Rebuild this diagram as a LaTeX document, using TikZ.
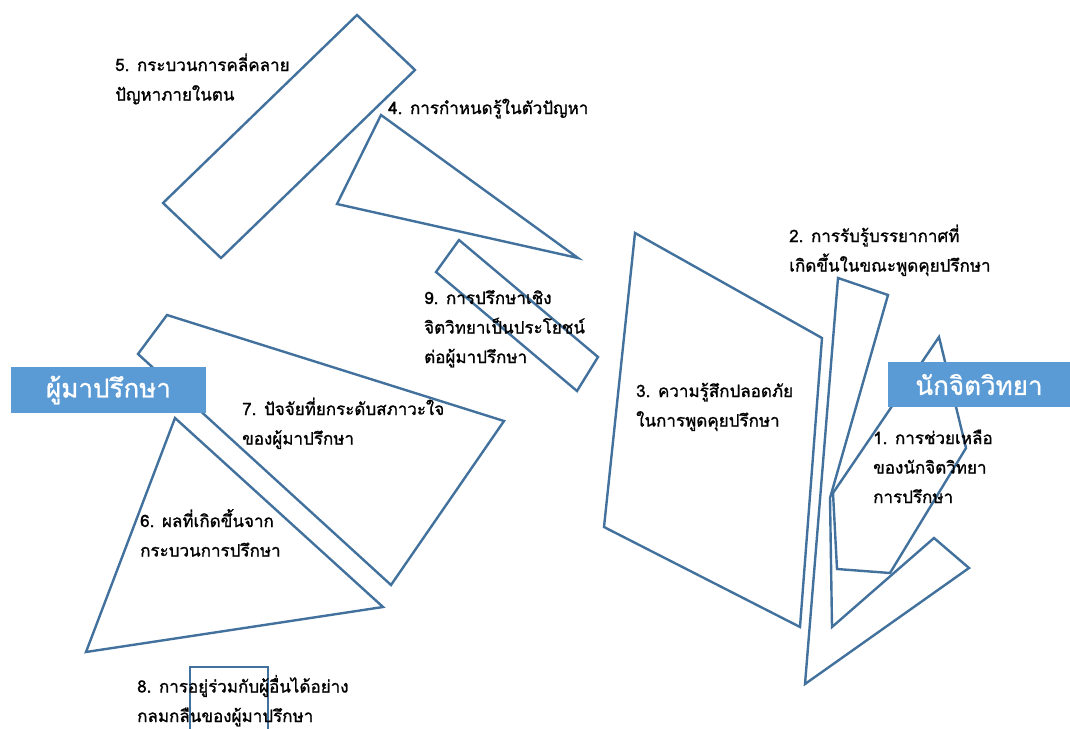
\documentclass[tikz,border=0pt]{standalone}
\usepackage{fontspec}
\newfontfamily\thaifont[Script=Thai, UprightFeatures={FakeBold=1.2}]{Loma}
\newfontfamily\rolefont[Script=Thai, UprightFeatures={FakeBold=1}]{Loma}
\definecolor{shapeline}{HTML}{41719C}
\definecolor{rolefill}{HTML}{5B9BD5}

\begin{document}
\begin{tikzpicture}[%
    x=1pt, y=-1pt,
    piece/.style={draw=shapeline, line width=2.4pt, line join=miter},
    lbl/.style={anchor=base west, align=left, inner sep=0pt, font=\thaifont\fontsize{17}{29.5}\selectfont},
    role/.style={fill=rolefill, text=white, inner sep=0pt, font=\rolefont\fontsize{26}{30}\selectfont},
  ]
  \useasboundingbox (0,0) rectangle (1070,728);

  % --- pieces (left) ---
  \draw[piece] (357,15) -- (415,70) -- (221,258) -- (163,203) -- cycle;   % 5
  \draw[piece] (381,115) -- (578,258) -- (337,204) -- cycle;              % 4
  \draw[piece] (459,240) -- (598,357) -- (577,391) -- (436,272) -- cycle; % 9
  \draw[piece] (167,315) -- (504,421) -- (391,585) -- (138,354) -- cycle; % 7
  \draw[piece] (175,418) -- (383,607) -- (86,652) -- cycle;               % 6
  \draw[piece] (190,740) -- (190,667) -- (268,667) -- (268,740);          % 8

  % --- pieces (right) ---
  \draw[piece] (635,233) -- (822,338) -- (800,627) -- (604,527) -- cycle; % 3
  \draw[piece] (838,278) -- (888,295) -- (830,498) -- (832,627)
    -- (934,538) -- (969,568) -- (805,684) -- cycle;                      % 2
  \draw[piece] (939,337) -- (966,448) -- (890,573) -- (837,569) -- (833,493) -- cycle; % 1

  % --- roles ---
  \node[role, minimum width=195pt, minimum height=46pt] (client) at (108.5,390) {ผู้มาปรึกษา};
  \node[role, minimum width=182pt, minimum height=45pt] (psych) at (979,384.5) {นักจิตวิทยา};

  % --- labels (placed at the baseline of the last line) ---
  \node[lbl] (t1) at (873,503) {1. การช่วยเหลือ\\ของนักจิตวิทยา\\การปรึกษา};
  \node[lbl] (t2) at (789,271.5) {2. การรับรู้บรรยากาศที่\\เกิดขึ้นในขณะพูดคุยปรึกษา};
  \node[lbl] (t3) at (636,426.5) {3. ความรู้สึกปลอดภัย\\ในการพูดคุยปรึกษา};
  \node[lbl] (t4) at (388,114) {4. การกำหนดรู้ในตัวปัญหา};
  \node[lbl] (t5) at (115,100.5) {5. กระบวนการคลี่คลาย\\ปัญหาภายในตน};
  \node[lbl] (t6) at (140,556.5) {6. ผลที่เกิดขึ้นจาก\\กระบวนการปรึกษา};
  \node[lbl] (t7) at (242,444.5) {7. ปัจจัยที่ยกระดับสภาวะใจ\\ของผู้มาปรึกษา};
  \node[lbl] (t8) at (137,722) {8. การอยู่ร่วมกับผู้อื่นได้อย่าง\\กลมกลืนของผู้มาปรึกษา};
  \node[lbl] (t9) at (424,363) {9. การปรึกษาเชิง\\จิตวิทยาเป็นประโยชน์\\ต่อผู้มาปรึกษา};
\end{tikzpicture}
\end{document}
